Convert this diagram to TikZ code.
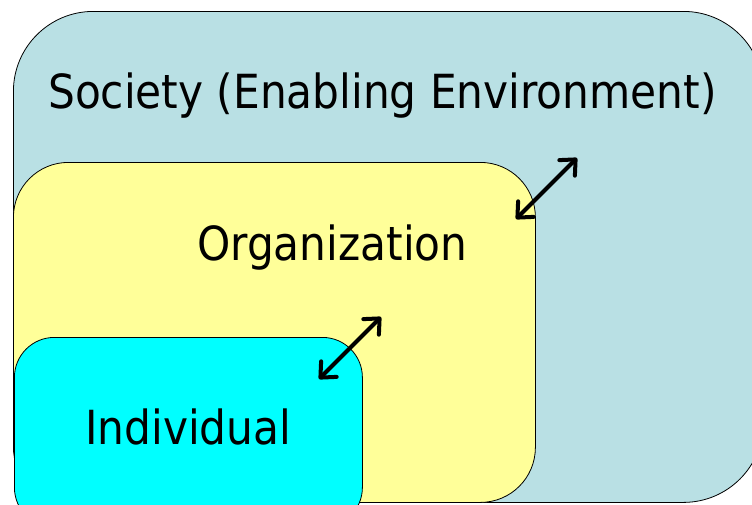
\documentclass[tikz,border=0pt]{standalone}
\usepackage{fontspec}
\setmainfont{DejaVu Sans Condensed}
\usetikzlibrary{arrows.meta}
\definecolor{societyblue}{RGB}{185,224,228}
\definecolor{orgyellow}{RGB}{255,255,153}
\definecolor{indcyan}{RGB}{0,255,255}
\tikzset{
  BoxStyle/.style={draw=black, line width=0.8pt, rounded corners=#1,
    anchor=north west, inner sep=0pt},
  LabelStyle/.style={anchor=base west, inner sep=0pt, font=\fontsize{47}{54}\selectfont},
  LinkStyle/.style={{Straight Barb[round,length=12pt,width=22pt]}-{Straight Barb[round,length=12pt,width=22pt]},
    line width=4pt, line cap=round}
}
\begin{document}
\begin{tikzpicture}[x=1pt,y=-1pt]
\useasboundingbox (0,0) rectangle (752,504);
\clip (0,0) rectangle (752,504);
% boxes
\node[BoxStyle=80pt, fill=societyblue, minimum width=750pt, minimum height=491pt] (society) at (13,11) {};
\node[BoxStyle=55pt, fill=orgyellow, minimum width=522pt, minimum height=340pt] (org) at (13,162) {};
\node[BoxStyle=40pt, fill=indcyan, minimum width=348pt, minimum height=190pt] (ind) at (14,337) {};
% labels
\node[LabelStyle] (societytext) at (48,108) {Society (Enabling Environment)};
\node[LabelStyle] (orgtext) at (197,260) {Organization};
\node[LabelStyle] (indtext) at (85,444) {Individual};
% links
\coordinate (orglow) at (516,219);
\coordinate (orghigh) at (577,158);
\coordinate (indlow) at (319,379);
\coordinate (indhigh) at (381,317);
\draw[LinkStyle] (orglow) -- (orghigh);
\draw[LinkStyle] (indlow) -- (indhigh);
\end{tikzpicture}
\end{document}
